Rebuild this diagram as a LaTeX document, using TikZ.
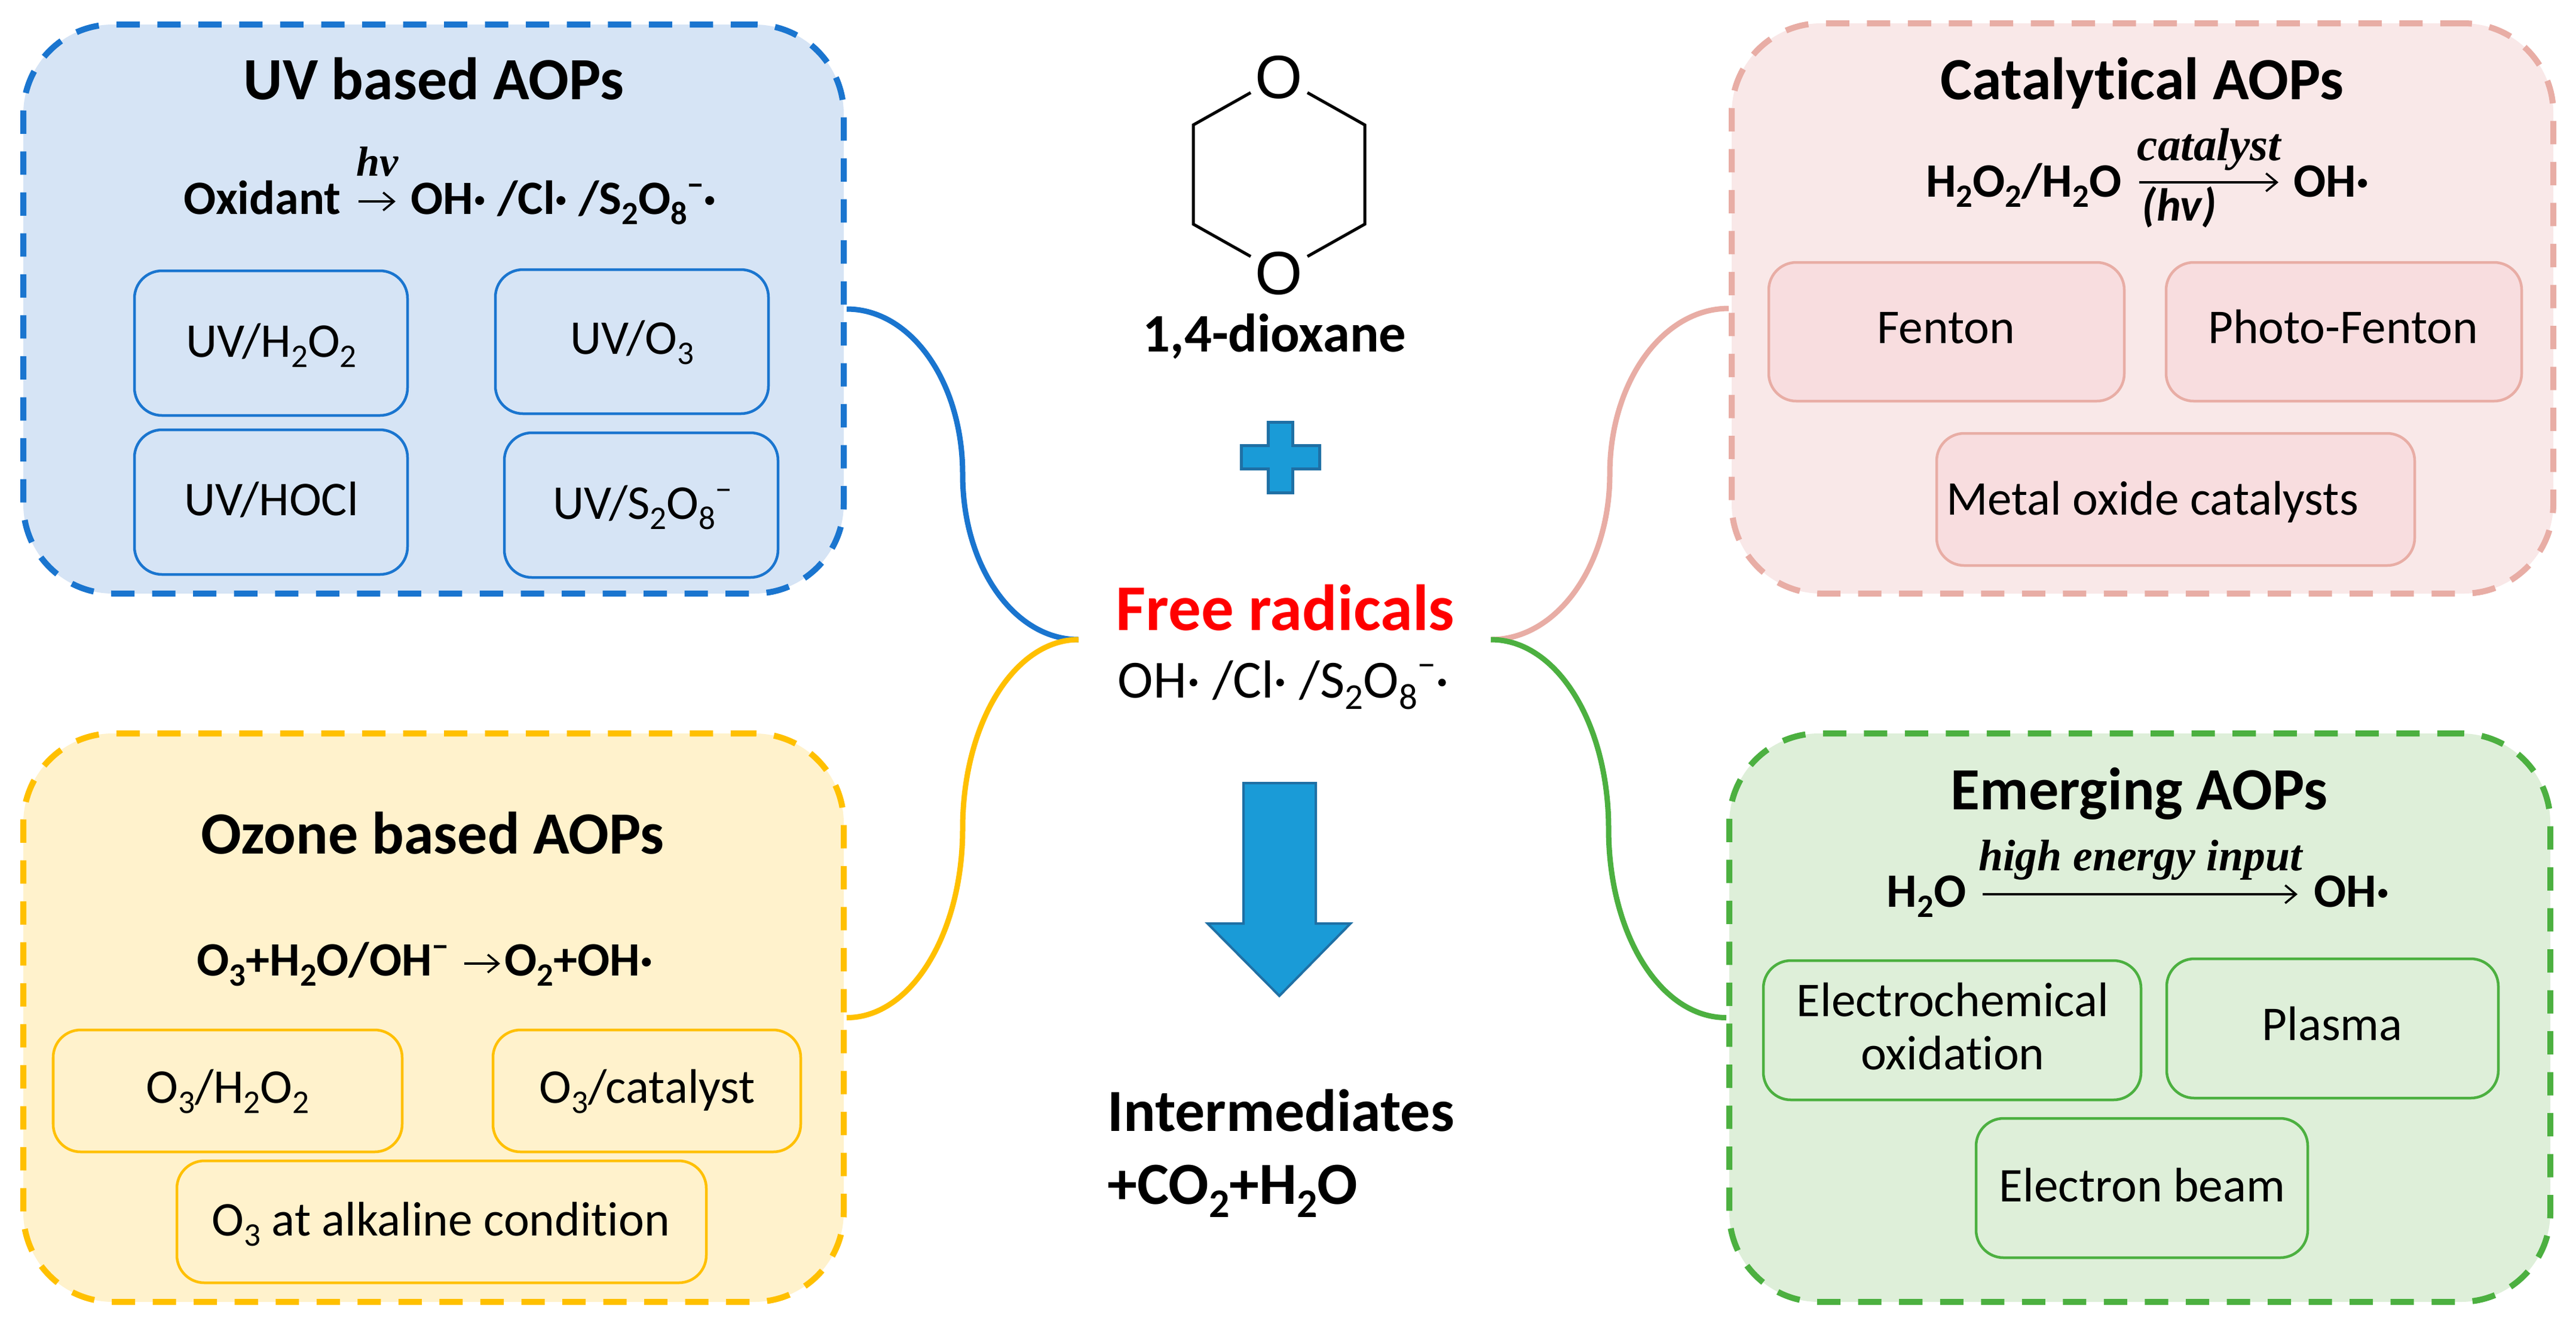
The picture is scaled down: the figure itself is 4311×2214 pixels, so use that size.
\documentclass[tikz,border=0pt]{standalone}
\usepackage{fontspec}
\usetikzlibrary{calc,arrows.meta}
\setmainfont[Ligatures=NoCommon]{Carlito}
\newfontfamily\mathlike{Liberation Serif}
\newfontfamily\chemfont{Liberation Sans}
\newcommand{\lo}[1]{\raisebox{-.22em}{\scalebox{.68}{#1}}}
\newcommand{\hi}[1]{\raisebox{.38em}{\scalebox{.68}{#1}}}
\definecolor{bluS}{HTML}{1A75CF}\definecolor{bluF}{HTML}{D6E4F5}
\definecolor{yelS}{HTML}{FFC000}\definecolor{yelF}{HTML}{FFF2CC}
\definecolor{pnkS}{HTML}{E8ADA5}\definecolor{pnkF}{HTML}{F9E8E8}\definecolor{pnkI}{HTML}{F8DDDF}
\definecolor{grnS}{HTML}{4CB040}\definecolor{grnF}{HTML}{DEEFD9}
\definecolor{cyanF}{HTML}{1A9BD7}\definecolor{cyanS}{HTML}{1F70A5}
\tikzset{
  boxsize/.style 2 args={minimum width=#1*0.01cm,minimum height=#2*0.01cm},
  bigbox/.style={draw=#1S,fill=#1F,line width=0.1cm,rounded corners=1.5cm,dash pattern=on 0.39cm off 0.295cm,inner sep=0},
  subbox/.style={draw=#1S,line width=0.045cm,rounded corners=0.46cm,inner sep=0},
  link/.style={draw=#1S,line width=0.09cm},
  lbl/.style={inner sep=0,anchor=base,align=center},
  ttl/.style={lbl,font=\fontsize{28.5}{30}\selectfont\bfseries},
  frm/.style={inner sep=0,font=\fontsize{22.8}{26}\selectfont\bfseries},
  txt/.style={lbl,font=\fontsize{23.1}{26}\selectfont},
  ital/.style={inner sep=0,anchor=base,font=\fontsize{21}{24}\selectfont\mathlike\bfseries\itshape},
  rx/.style={line width=0.035cm,-{Straight Barb[length=0.18cm,width=0.3cm]}},
  bond/.style={line width=0.05cm,line join=miter},
}
\begin{document}
\begin{tikzpicture}[x=0.01cm,y=-0.01cm]
\useasboundingbox (0,0) rectangle (4311,2214);
\fill[white] (0,0) rectangle (4311,2214);
% big panels
\node[bigbox=blu,boxsize={1373}{952}] (uv) at (725.5,517) {};
\node[bigbox=yel,boxsize={1373}{951}] (oz) at (725.5,1702.5) {};
\node[bigbox=pnk,boxsize={1375}{954}] (ca) at (3585.5,516) {};
\node[bigbox=grn,boxsize={1374}{951}] (em) at (3581,1702.5) {};
% hub ends and connectors
\coordinate (hubL) at (1805,1070);
\coordinate (hubR) at (2495,1070);
\coordinate (mUV) at ($(uv.east)!.5!(hubL)$);
\coordinate (mOZ) at ($(oz.east)!.5!(hubL)$);
\coordinate (mCA) at ($(ca.west)!.5!(hubR)$);
\coordinate (mEM) at ($(em.west)!.5!(hubR)$);
\draw[link=blu] (uv.east) .. controls +(108,0) and +(0,-154) .. (mUV) .. controls +(0,154) and +(-108,0) .. (hubL);
\draw[link=yel] (oz.east) .. controls +(108,0) and +(0,175) .. (mOZ) .. controls +(0,-175) and +(-108,0) .. (hubL);
\draw[link=pnk] (ca.west) .. controls +(-111,0) and +(0,-153) .. (mCA) .. controls +(0,153) and +(111,0) .. (hubR);
\draw[link=grn] (em.west) .. controls +(-111,0) and +(0,175) .. (mEM) .. controls +(0,-175) and +(111,0) .. (hubR);
% UV panel
\node[ttl] (uvT) at (726,166) {UV based AOPs};
\node[frm,anchor=base east] (uvA) at (571,358) {Oxidant};
\node[frm,anchor=base west] (uvB) at (687,358) {OH· /Cl· /S\lo{2}O\lo{8}\hi{−}·};
\node[ital,font=\fontsize{20}{24}\selectfont\mathlike\bfseries\itshape] (uvH) at (632,294) {hv};
\coordinate (uvR1) at (600,337); \coordinate (uvR2) at (662,337);
\draw[rx] (uvR1) -- (uvR2);
\node[subbox=blu,boxsize={457}{242}] (u1) at (453.5,574) {};
\node[subbox=blu,boxsize={457}{241}] (u2) at (1057.5,571.5) {};
\node[subbox=blu,boxsize={457}{242}] (u3) at (453.5,840) {};
\node[subbox=blu,boxsize={458}{242}] (u4) at (1073,845) {};
\node[txt] (u1t) at (454,597) {UV/H\lo{2}O\lo{2}};
\node[txt] (u2t) at (1058,592) {UV/O\lo{3}};
\node[txt] (u3t) at (454,862) {UV/HOCl};
\node[txt] (u4t) at (1075,868) {UV/S\lo{2}O\lo{8}\hi{−}};
% Ozone panel
\node[ttl] (ozT) at (724,1428) {Ozone based AOPs};
\node[frm,anchor=base east] (ozA) at (751,1632) {O\lo{3}+H\lo{2}O/OH\hi{−}};
\node[frm,anchor=base west] (ozB) at (844,1632) {O\lo{2}+OH·};
\coordinate (ozR1) at (777,1612); \coordinate (ozR2) at (837,1612);
\draw[rx] (ozR1) -- (ozR2);
\node[subbox=yel,boxsize={584}{204}] (o1) at (381,1825) {};
\node[subbox=yel,boxsize={515}{204}] (o2) at (1082.5,1825) {};
\node[subbox=yel,boxsize={886}{204}] (o3) at (739,2044) {};
\node[txt] (o1t) at (381,1845) {O\lo{3}/H\lo{2}O\lo{2}};
\node[txt] (o2t) at (1083,1845) {O\lo{3}/catalyst};
\node[txt] (o3t) at (738,2067) {O\lo{3} at alkaline condition};
% Catalytical panel
\node[ttl] (caT) at (3585,166) {Catalytical AOPs};
\node[frm,anchor=base east] (caA) at (3551,329) {H\lo{2}O\lo{2}/H\lo{2}O};
\node[frm,anchor=base west] (caB) at (3838,329) {OH·};
\node[ital,font=\fontsize{22}{24}\selectfont\mathlike\bfseries\itshape] (caC) at (3697,268) {catalyst};
\node[frm,anchor=base,font=\fontsize{22}{26}\selectfont\bfseries\itshape] (caH) at (3647,369) {(hv)};
\coordinate (caR1) at (3580,305); \coordinate (caR2) at (3813,305);
\draw[rx] (caR1) -- (caR2);
\node[subbox=pnk,fill=pnkI,boxsize={595}{232}] (c1) at (3257.5,555) {};
\node[subbox=pnk,fill=pnkI,boxsize={595}{232}] (c2) at (3922.5,555) {};
\node[subbox=pnk,fill=pnkI,boxsize={800}{221}] (c3) at (3641,835.5) {};
\node[txt] (c1t) at (3257,574) {Fenton};
\node[txt] (c2t) at (3921,574) {Photo-Fenton};
\node[txt] (c3t) at (3602,861) {Metal oxide catalysts};
% Emerging panel
\node[ttl] (emT) at (3580,1354) {Emerging AOPs};
\node[frm,anchor=base east] (emA) at (3291,1517) {H\lo{2}O};
\node[frm,anchor=base west] (emB) at (3872,1517) {OH·};
\node[ital] (emC) at (3582,1456) {high energy input};
\coordinate (emR1) at (3318,1496); \coordinate (emR2) at (3845,1496);
\draw[rx] (emR1) -- (emR2);
\node[subbox=grn,boxsize={632}{233}] (e1) at (3267,1723.5) {};
\node[subbox=grn,boxsize={555}{233}] (e2) at (3903.5,1720.5) {};
\node[subbox=grn,boxsize={555}{233}] (e3) at (3584.5,1987.5) {};
\node[txt] (e1a) at (3268,1700) {Electrochemical};
\node[txt] (e1b) at (3268,1789) {oxidation};
\node[txt] (e2t) at (3903,1740) {Plasma};
\node[txt] (e3t) at (3585,2010) {Electron beam};
% centre column: molecule
\node[lbl,font=\fontsize{29}{30}\selectfont\chemfont] (oA) at (2140,164) {O};
\node[lbl,font=\fontsize{29}{30}\selectfont\chemfont] (oB) at (2140,492) {O};
\draw[bond] (2093,155) -- (1997,209) -- (1997,375) -- (2093,429);
\draw[bond] (2188,155) -- (2284,209) -- (2284,375) -- (2188,429);
\node[lbl,font=\fontsize{25.8}{28}\selectfont\bfseries] (dx) at (2133,588) {1,4-dioxane};
% plus
\draw[cyanS,fill=cyanF,line width=0.05cm] (2122.5,706) -- (2163,706) -- (2163,745) -- (2208,745) -- (2208,784.5) -- (2163,784.5) -- (2163,824) -- (2122.5,824) -- (2122.5,784.5) -- (2077,784.5) -- (2077,745) -- (2122.5,745) -- cycle;
\node[lbl,font=\fontsize{31}{32}\selectfont\bfseries,text={rgb,255:red,255;green,0;blue,0}] (fr) at (2151,1054) {Free radicals};
\node[lbl,font=\fontsize{25.5}{28}\selectfont] (fl) at (2148,1167) {OH· /Cl· /S\lo{2}O\lo{8}\hi{−}·};
% down arrow
\draw[cyanS,fill=cyanF,line width=0.04cm,line join=miter] (2081,1310) -- (2202,1310) -- (2202,1545) -- (2260,1545) -- (2141,1666) -- (2021,1545) -- (2081,1545) -- cycle;
\node[inner sep=0,anchor=base west,font=\fontsize{28.4}{30}\selectfont\bfseries] (in1) at (1853,1892) {Intermediates};
\node[inner sep=0,anchor=base west,font=\fontsize{28.4}{30}\selectfont\bfseries] (in2) at (1853,2014) {+CO\lo{2}+H\lo{2}O};
\end{tikzpicture}
\end{document}
